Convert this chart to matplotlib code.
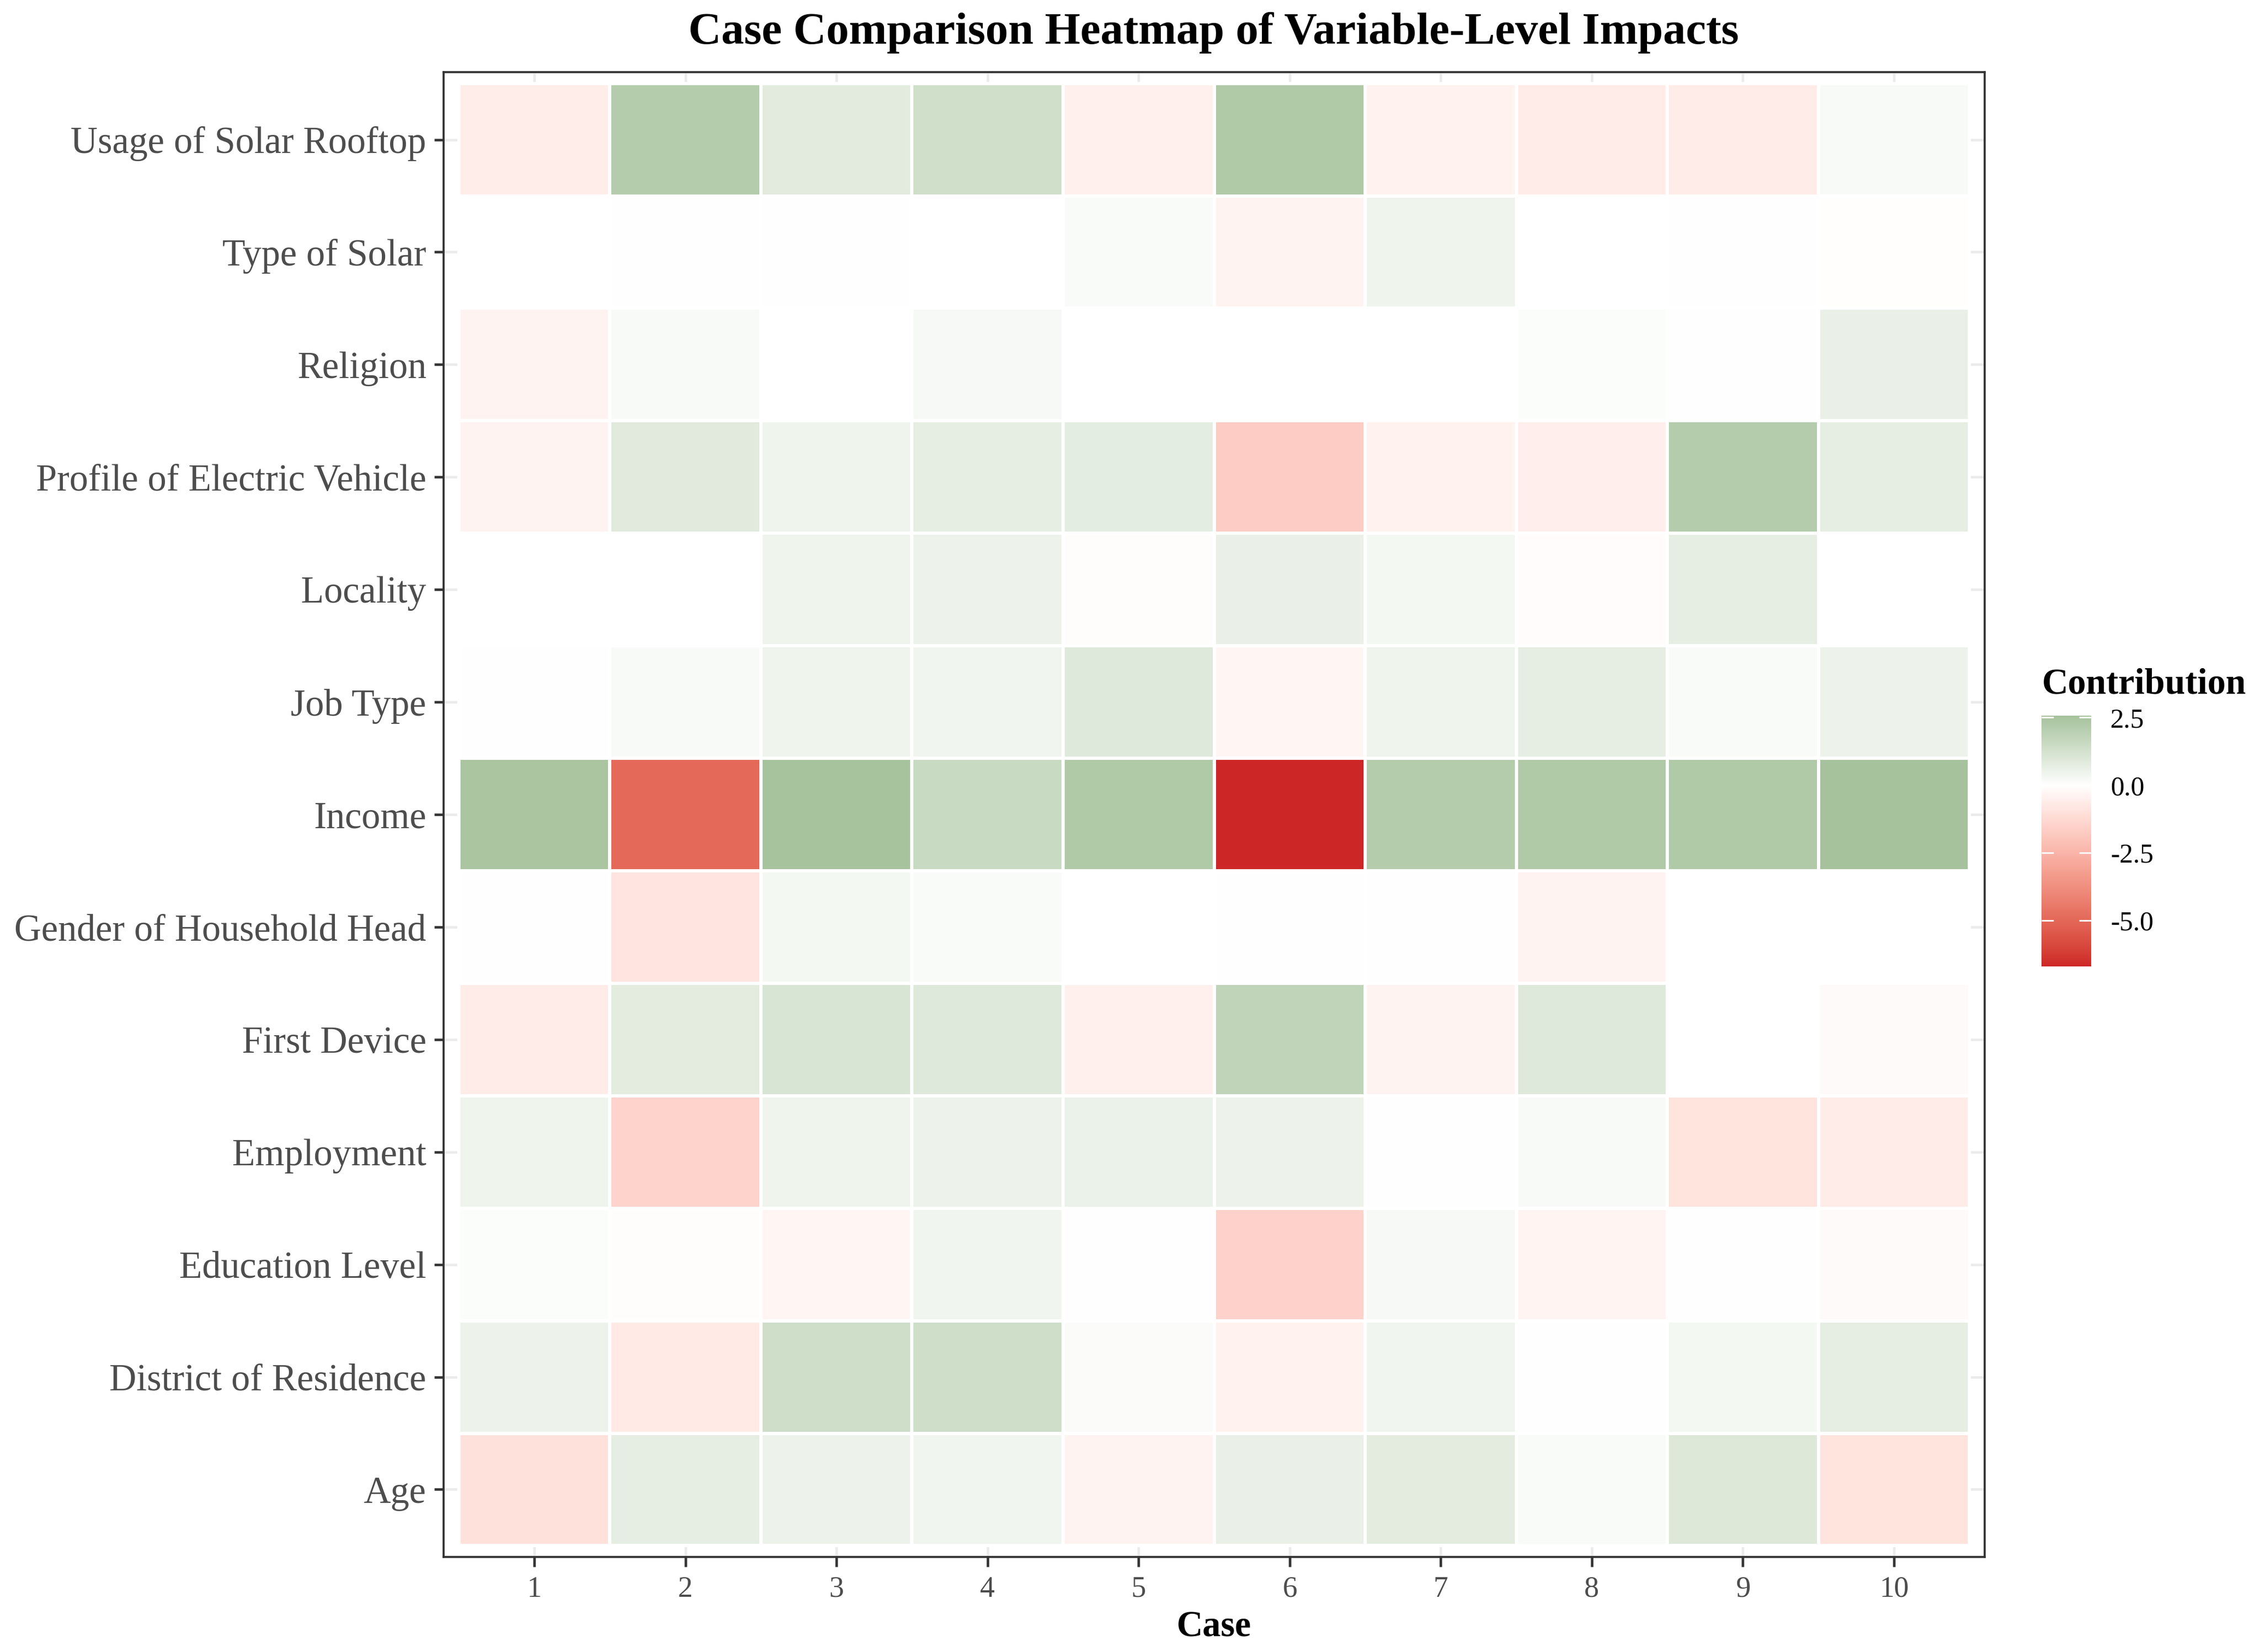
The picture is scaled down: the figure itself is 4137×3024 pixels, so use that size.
import numpy as np
import matplotlib
matplotlib.use("Agg")
import matplotlib.pyplot as plt
from matplotlib.colors import ListedColormap, Normalize, to_rgb
from matplotlib.cm import ScalarMappable

# ---------------- data ----------------
cases = [1, 2, 3, 4, 5, 6, 7, 8, 9, 10]

# variables from bottom to top (ggplot puts the first level at the bottom)
variables = [
    "Age",
    "District of Residence",
    "Education Level",
    "Employment",
    "First Device",
    "Gender of Household Head",
    "Income",
    "Job Type",
    "Locality",
    "Profile of Electric Vehicle",
    "Religion",
    "Type of Solar",
    "Usage of Solar Rooftop",
]

age         = [-1.00, 0.70, 0.50, 0.40, -0.40, 0.60, 0.80, 0.18, 0.95, -0.95]
district    = [0.50, -0.70, 1.38, 1.38, 0.12, -0.45, 0.40, 0.05, 0.30, 0.70]
education   = [0.10, -0.08, -0.30, 0.40, 0.03, -1.50, 0.22, -0.35, -0.03, -0.15]
employment  = [0.45, -1.46, 0.45, 0.50, 0.55, 0.50, -0.02, 0.20, -0.95, -0.68]
first_dev   = [-0.65, 0.80, 1.10, 0.90, -0.50, 1.80, -0.40, 0.90, 0.00, -0.15]
gender      = [-0.02, -0.90, 0.30, 0.18, 0.00, 0.05, 0.02, -0.40, 0.00, 0.01]
income      = [2.45, -4.95, 2.55, 1.56, 2.25, -6.70, 2.15, 2.25, 2.25, 2.57]
job_type    = [-0.02, 0.20, 0.45, 0.40, 0.90, -0.30, 0.45, 0.70, 0.17, 0.50]
locality    = [0.00, 0.00, 0.45, 0.50, -0.08, 0.60, 0.30, -0.12, 0.70, 0.00]
ev_profile  = [-0.40, 0.85, 0.45, 0.70, 0.75, -1.70, -0.45, -0.55, 2.15, 0.70]
religion    = [-0.40, 0.20, 0.00, 0.25, 0.01, 0.00, 0.00, 0.10, -0.02, 0.60]
solar_type  = [0.00, -0.02, -0.03, 0.00, 0.15, -0.40, 0.45, -0.01, -0.02, -0.05]
solar_roof  = [-0.60, 2.15, 0.83, 1.35, -0.50, 2.25, -0.45, -0.65, -0.65, 0.20]

contrib = np.array([age, district, education, employment, first_dev, gender,
                    income, job_type, locality, ev_profile, religion,
                    solar_type, solar_roof])

# ---------------- colour scale like scale_fill_gradient2 (Lab) ----------------
low_col, mid_col, high_col = "#CD2626", "white", "#006400"

M = np.array([[0.4124, 0.3576, 0.1805],
              [0.2126, 0.7152, 0.0722],
              [0.0193, 0.1192, 0.9505]])
WHITE = np.array([0.95047, 1.0, 1.08883])
EPS = (6 / 29) ** 3


def to_lab(rgb):
    rgb = np.atleast_2d(rgb)
    lin = np.where(rgb <= 0.04045, rgb / 12.92, ((rgb + 0.055) / 1.055) ** 2.4)
    xyz = lin @ M.T / WHITE
    f = np.where(xyz > EPS, np.cbrt(xyz), xyz / (3 * (6 / 29) ** 2) + 4 / 29)
    return np.stack([116 * f[:, 1] - 16,
                     500 * (f[:, 0] - f[:, 1]),
                     200 * (f[:, 1] - f[:, 2])], axis=1)


def from_lab(lab):
    fy = (lab[:, 0] + 16) / 116
    fx = fy + lab[:, 1] / 500
    fz = fy - lab[:, 2] / 200
    f = np.stack([fx, fy, fz], axis=1)
    xyz = np.where(f > 6 / 29, f ** 3, 3 * (6 / 29) ** 2 * (f - 4 / 29)) * WHITE
    lin = xyz @ np.linalg.inv(M).T
    lin = np.clip(lin, 0, 1)
    rgb = np.where(lin <= 0.0031308, lin * 12.92, 1.055 * lin ** (1 / 2.4) - 0.055)
    return np.clip(rgb, 0, 1)


lab_low, lab_mid, lab_high = (to_lab(np.array(to_rgb(c)))[0]
                              for c in (low_col, mid_col, high_col))

vmin, vmax = contrib.min(), contrib.max()
extent = max(abs(vmin), abs(vmax))
vals = np.linspace(vmin, vmax, 512)
t = vals / extent / 2 + 0.5
lab = np.where((t < 0.5)[:, None],
               lab_low + (lab_mid - lab_low) * (t / 0.5)[:, None],
               lab_mid + (lab_high - lab_mid) * ((t - 0.5) / 0.5)[:, None])
cmap = ListedColormap(from_lab(lab))
norm = Normalize(vmin=vmin, vmax=vmax)

# ---------------- figure ----------------
plt.rcParams['font.family'] = ['Liberation Serif', 'DejaVu Serif']

W, H = 4137, 3024
fig = plt.figure(figsize=(W / 300, H / 300), dpi=300)
ax = fig.add_axes([812 / W, 1 - 2850 / H, (3633 - 812) / W, (2850 - 132) / H])

xe = np.arange(len(cases) + 1) + 0.5
ye = np.arange(len(variables) + 1) + 0.5
ax.pcolormesh(xe, ye, contrib, cmap=cmap, norm=norm,
              edgecolors='white', linewidth=1.0, zorder=2)

ax.set_xlim(0.4, len(cases) + 0.6)
ax.set_ylim(0.4, len(variables) + 0.6)
ax.set_xticks(np.arange(1, len(cases) + 1))
ax.set_xticklabels([str(c) for c in cases])
ax.set_yticks(np.arange(1, len(variables) + 1))
ax.set_yticklabels(variables)

ax.grid(True, color='#EBEBEB', linewidth=1.1, zorder=0)
ax.set_axisbelow(True)
for sp in ax.spines.values():
    sp.set_color('#333333')
    sp.set_linewidth(0.9)

ax.tick_params(axis='both', color='#333333', width=1.1, length=4.2,
               labelcolor='#4D4D4D')
ax.tick_params(axis='y', labelsize=16.5, pad=3.4)
ax.tick_params(axis='x', labelsize=13, pad=4.0)

# title and axis title
fig.text(2222 / W, 1 - 80 / H, "Case Comparison Heatmap of Variable-Level Impacts",
         ha='center', va='baseline', fontsize=20, fontweight='bold')
fig.text(2222 / W, 1 - 2996 / H, "Case", ha='center', va='baseline',
         fontsize=16, fontweight='bold')

# colour bar legend
cax = fig.add_axes([3737 / W, 1 - 1769 / H, 91 / W, (1769 - 1310) / H])
cb = fig.colorbar(ScalarMappable(norm=norm, cmap=cmap), cax=cax)
cb.outline.set_visible(False)
cb.set_ticks([-5.0, -2.5, 0.0, 2.5])
cb.set_ticklabels(['-5.0', '-2.5', '0.0', '2.5'])
cax.tick_params(which='major', direction='in', length=5.3, width=0.7,
                color='white', left=True, right=True, labelleft=False,
                labelright=True, labelsize=12, labelcolor='black', pad=8.4)
cax.minorticks_off()
fig.text(3738 / W, 1 - 1270 / H, "Contribution", ha='left', va='baseline',
         fontsize=16, fontweight='bold')

fig.savefig("out.png", dpi=300)
